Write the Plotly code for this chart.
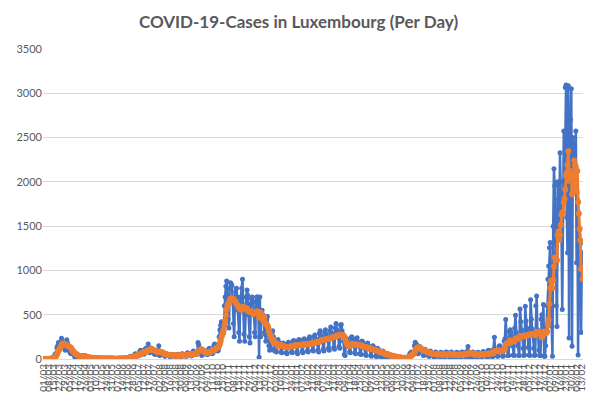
import pandas as pd
import plotly.graph_objects as go

start_date = "2020-03-01"

# Daily new cases, one row per week (Sun..Sat)
cases_2020_spring = [
    0, 0, 1, 1, 2, 1, 2,
    1, 2, 3, 2, 7, 12, 21,
    26, 41, 59, 63, 131, 149, 186,
    128, 110, 190, 234, 200, 170, 150,
    140, 100, 107, 217, 180, 130, 120,
    80, 65, 60, 96, 80, 70, 40,
    20, 16, 46, 50, 30, 40, 35,
    20, 10, 40, 30, 35, 25, 40,
    10, 5, 20, 15, 20, 15, 10,
    5, 4, 10, 12, 8, 15, 10,
    6, 2, 8, 10, 12, 8, 5,
    3, 2, 5, 8, 6, 4, 5,
    2, 3, 4, 8, 6, 5, 3,
]
cases_2020_summer = [
    1, 2, 5, 4, 6, 3, 5,
    2, 1, 6, 8, 5, 4, 3,
    3, 4, 8, 10, 12, 9, 8,
    8, 10, 22, 25, 30, 28, 20,
    20, 25, 50, 60, 55, 45, 40,
    35, 40, 90, 100, 80, 90, 70,
    55, 60, 110, 120, 100, 95, 170,
    80, 70, 115, 125, 110, 90, 100,
    60, 50, 90, 95, 80, 70, 150,
    40, 45, 70, 80, 60, 55, 50,
    30, 35, 60, 55, 50, 45, 40,
    25, 30, 55, 50, 45, 40, 35,
    25, 30, 50, 45, 55, 40, 30,
]
cases_2020_autumn = [
    20, 30, 60, 55, 50, 45, 40,
    30, 35, 70, 60, 55, 50, 45,
    35, 40, 80, 90, 70, 60, 50,
    50, 60, 185, 160, 120, 100, 80,
    40, 50, 100, 90, 80, 75, 60,
    50, 55, 110, 120, 100, 95, 80,
    60, 70, 150, 170, 160, 140, 120,
    90, 100, 250, 330, 380, 420, 330,
    280, 300, 600, 700, 820, 880, 600,
    450, 350, 800, 860, 850, 830, 650,
    400, 250, 700, 760, 800, 700, 550,
    300, 200, 650, 700, 800, 900, 540,
    280, 200, 600, 700, 780, 720, 500,
    250, 180, 620, 680, 700, 650, 500,
    300, 250, 650, 700, 700, 640, 20,
    700, 250, 520, 550, 500, 450, 300,
    280, 200, 450, 480, 350, 150, 100,
]
cases_2021_h1 = [
    120, 110, 300, 320, 250, 100, 90,
    100, 80, 200, 220, 190, 180, 150,
    80, 70, 170, 180, 150, 160, 130,
    70, 60, 170, 190, 180, 170, 140,
    80, 70, 200, 210, 190, 180, 150,
    80, 60, 210, 220, 200, 190, 160,
    90, 70, 220, 230, 200, 180, 170,
    90, 80, 230, 250, 210, 190, 180,
    100, 90, 250, 270, 230, 210, 200,
    100, 80, 290, 320, 260, 230, 220,
    110, 90, 300, 330, 280, 250, 230,
    120, 100, 320, 360, 300, 270, 240,
    130, 110, 350, 400, 330, 290, 250,
    140, 120, 380, 390, 320, 280, 200,
    50, 40, 150, 230, 200, 180, 150,
    80, 70, 240, 250, 200, 180, 150,
    70, 60, 230, 240, 190, 170, 140,
    60, 50, 200, 200, 170, 150, 120,
    50, 40, 170, 180, 150, 130, 110,
    40, 30, 140, 150, 130, 110, 90,
    35, 25, 120, 110, 100, 90, 70,
    25, 20, 90, 80, 70, 60, 50,
    15, 10, 60, 55, 50, 40, 30,
    10, 8, 40, 35, 30, 25, 20,
    5, 5, 25, 20, 18, 15, 12,
    4, 3, 15, 18, 20, 15, 10,
]
cases_2021_h2 = [
    10, 12, 40, 60, 70, 80, 60,
    50, 60, 150, 190, 170, 160, 120,
    60, 70, 140, 130, 120, 110, 90,
    40, 45, 110, 100, 90, 80, 60,
    30, 30, 90, 80, 70, 60, 50,
    25, 25, 80, 70, 65, 55, 45,
    25, 20, 75, 70, 60, 55, 40,
    20, 25, 80, 75, 65, 60, 45,
    20, 20, 80, 70, 60, 55, 40,
    20, 20, 75, 70, 65, 50, 40,
    20, 20, 80, 75, 70, 60, 45,
    25, 20, 90, 140, 70, 60, 45,
    20, 20, 80, 75, 65, 55, 45,
    20, 20, 75, 70, 65, 60, 40,
    20, 25, 85, 80, 70, 60, 45,
    25, 25, 100, 95, 80, 70, 50,
    25, 30, 110, 245, 90, 80, 60,
    30, 35, 140, 150, 130, 110, 80,
    30, 35, 200, 230, 445, 180, 110,
    40, 40, 310, 330, 300, 250, 150,
    45, 40, 350, 494, 300, 250, 150,
    40, 40, 565, 420, 330, 280, 120,
    40, 45, 595, 430, 350, 300, 130,
    45, 40, 670, 450, 340, 290, 120,
    40, 45, 600, 710, 330, 260, 100,
    40, 40, 450, 500, 400, 615, 30,
    30, 150, 350, 600, 900, 1050, 1257,
]
cases_2022 = [
    1314, 700, 370, 30, 1500, 2147, 1957,
    1200, 600, 367, 2000, 1800, 1500, 2330,
    2000, 1400, 558, 2000, 2575, 1800, 3065,
    3093, 1600, 1200, 3084, 238, 2600, 2700,
    3050, 143, 2500, 2300, 2400, 2200, 2575,
    1086, 1800, 45, 1400, 1161, 1300, 300,
    1200, 916,
]

daily = (cases_2020_spring + cases_2020_summer + cases_2020_autumn
         + cases_2021_h1 + cases_2021_h2 + cases_2022)
dates = pd.date_range(start_date, periods=len(daily), freq="D")
s = pd.Series(daily, index=dates)
avg7 = s.rolling(7, min_periods=1).mean()

BLUE = "#4472C4"
ORANGE = "#ED7D31"
GREY = "#595959"

fig = go.Figure()
fig.add_trace(go.Scatter(
    x=dates, y=s.values, mode="lines+markers", name="Cases",
    line=dict(color=BLUE, width=2.5),
    marker=dict(color=BLUE, size=5),
))
fig.add_trace(go.Scatter(
    x=dates, y=avg7.values, mode="lines+markers", name="7-day average",
    line=dict(color=ORANGE, width=3),
    marker=dict(color=ORANGE, size=6),
))

fig.update_layout(
    width=597, height=405,
    margin=dict(l=43, r=14, t=49, b=46, autoexpand=False),
    paper_bgcolor="white", plot_bgcolor="white",
    showlegend=False,
    title=dict(
        text="<b>COVID-19-Cases in Luxembourg (Per Day)</b>",
        x=0.5, xanchor="center", y=1 - 22 / 405, yanchor="middle",
        font=dict(family="Lato", size=17, color=GREY),
    ),
    font=dict(family="Lato", color=GREY),
)
fig.update_xaxes(
    type="date",
    range=[dates[0] - pd.Timedelta(hours=12), dates[-1] + pd.Timedelta(hours=12)],
    tick0=start_date, dtick=7 * 86400000, tickformat="%d/%m",
    tickangle=-90, tickfont=dict(size=10, color=GREY),
    showgrid=False, showline=True, linecolor="#d9d9d9", linewidth=1,
    ticks="", zeroline=False, automargin=False,
)
fig.update_yaxes(
    range=[0, 3500], dtick=500,
    showgrid=True, gridcolor="#d9d9d9", gridwidth=1,
    zeroline=False, showline=False, ticks="", automargin=False,
    tickfont=dict(size=11, color=GREY),
)

fig.write_html(
    "out.html",
    config={"displayModeBar": False},
    post_script="document.body.style.margin='0';document.body.style.overflow='hidden';",
)
